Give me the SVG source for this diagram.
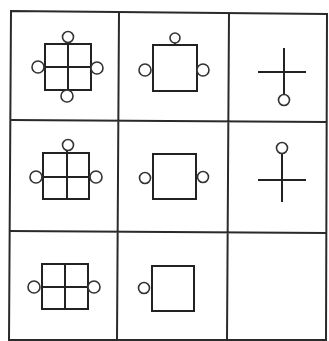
<svg xmlns="http://www.w3.org/2000/svg" width="329" height="341" viewBox="0 0 329 341">
<style>
.g{stroke:#2a2a2a;stroke-width:2;fill:none}
.s{stroke:#222;stroke-width:2;fill:none}
.c{stroke:#333;stroke-width:1.6;fill:#fff}
</style>
<rect width="329" height="341" fill="#fff"/>
<g id="grid">
<path class="g" d="M11,11 L327,14 L326,340 L9,340 Z"/>
<path class="g" d="M10,120 L327,122 M9,231 L327,233 M119,12 L117,340 M229,13 L227,340"/>
</g>
<g id="r1c1">
<rect class="s" x="45" y="44" width="46" height="46"/>
<path class="s" d="M68,44 V90 M45,67 H91"/>
<circle class="c" cx="68" cy="37" r="5.5"/>
<circle class="c" cx="38" cy="67" r="6"/>
<circle class="c" cx="97" cy="68" r="6"/>
<circle class="c" cx="67" cy="96" r="6"/>
</g>
<g id="r1c2">
<rect class="s" x="153" y="45" width="44" height="46"/>
<path class="s" d="M175,40 V45"/>
<circle class="c" cx="175" cy="38" r="5"/>
<circle class="c" cx="145" cy="70" r="6"/>
<circle class="c" cx="203" cy="70" r="6"/>
</g>
<g id="r1c3">
<path class="s" d="M258,72 H306 M284,48 V95"/>
<circle class="c" cx="284" cy="100" r="5.5"/>
</g>
<g id="r2c1">
<rect class="s" x="43" y="153" width="46" height="46"/>
<path class="s" d="M67,148 V199 M43,177 H89"/>
<circle class="c" cx="68" cy="145" r="5.5"/>
<circle class="c" cx="36" cy="177" r="6"/>
<circle class="c" cx="96" cy="177" r="6"/>
</g>
<g id="r2c2">
<rect class="s" x="153" y="154" width="43" height="45"/>
<circle class="c" cx="145" cy="178" r="5.5"/>
<circle class="c" cx="203" cy="177" r="5.5"/>
</g>
<g id="r2c3">
<path class="s" d="M258,180 H306 M282,153 V202"/>
<circle class="c" cx="282" cy="148" r="5.5"/>
</g>
<g id="r3c1">
<rect class="s" x="42" y="264" width="46" height="45"/>
<path class="s" d="M65,264 V309 M42,287 H88"/>
<circle class="c" cx="34" cy="287" r="6"/>
<circle class="c" cx="94" cy="287" r="6"/>
</g>
<g id="r3c2">
<rect class="s" x="152" y="266" width="42" height="45"/>
<circle class="c" cx="144" cy="288" r="5.5"/>
</g>
</svg>
